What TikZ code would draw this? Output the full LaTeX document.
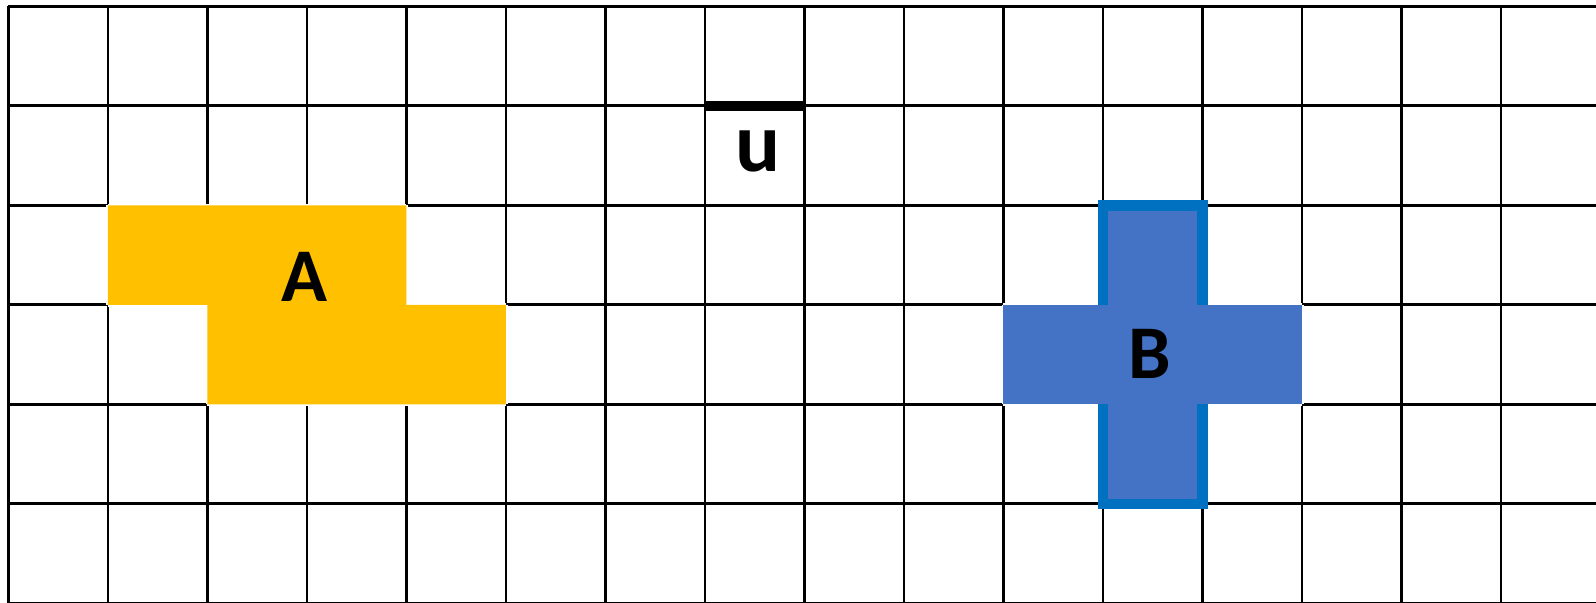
\documentclass[tikz,border=0pt]{standalone}
\usepackage{fontspec}
\setmainfont{Carlito}
\definecolor{yellowA}{HTML}{FFC000}
\definecolor{fillB}{HTML}{4472C4}
\definecolor{edgeB}{HTML}{0070C0}
\begin{document}
\begin{tikzpicture}[
  x=1cm,
  y=1cm,
  gridline/.style={draw=black,line width=0.85pt},
  knockout/.style={draw=white,line width=0.9pt,line cap=butt},
  shapelabel/.style={inner sep=0pt,font=\bfseries\fontsize{21.7}{26}\selectfont},
  unitlabel/.style={inner sep=0pt,font=\bfseries\fontsize{24}{28}\selectfont},
  shapeA/.style={fill=yellowA},
  shapeB/.style={fill=fillB},
  edge/.style={draw=edgeB,line width=3pt},
  unitbar/.style={draw=black,line width=2.9pt}
]

% Frame
\useasboundingbox (-0.0854,0.005) rectangle (15.955,6.065);
\clip (-0.0854,0.005) rectangle (15.955,6.065);

% Grid
\draw[gridline] (0,0) grid (16,6);

% Shape A (grid lines removed along its border)
\draw[knockout] (1,4) -- (4,4) (4,4) -- (4,3) (4,3) -- (5,3) (5,3) -- (5,2)
  (5,2) -- (2,2) (2,2) -- (2,3) (2,3) -- (1,3) (1,3) -- (1,4);
\fill[shapeA] (1,4) -- (4,4) -- (4,3) -- (5,3) -- (5,2) -- (2,2) -- (2,3) -- (1,3) -- cycle;
\node[shapelabel] (labelA) at (2.97,3.28) {A};

% Shape B
\draw[knockout] (10,2) -- (13,2) (13,2) -- (13,3) (13,3) -- (10,3) (10,3) -- (10,2);
\filldraw[shapeB,edge] (11,1) rectangle (12,4);
\fill[shapeB] (10,2) rectangle (13,3);
\node[shapelabel] (labelB) at (11.47,2.505) {B};

% Unit length
\draw[unitbar] (7,5) -- (8,5);
\node[unitlabel] (labelU) at (7.53,4.546) {u};

\end{tikzpicture}
\end{document}
